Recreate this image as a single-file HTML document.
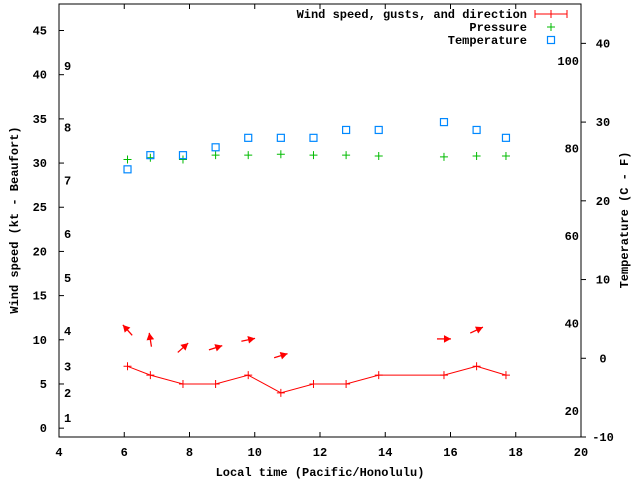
<!DOCTYPE html>
<html><head><meta charset="utf-8"><style>
body{margin:0;background:#fff}
svg text{font-family:"Liberation Mono",monospace;font-weight:bold;font-size:12px;fill:#000}
</style></head><body>
<svg id="c" width="640" height="480" xmlns="http://www.w3.org/2000/svg"></svg>
<script>
const times=[6.1,6.8,7.8,8.8,9.8,10.8,11.8,12.8,13.8,15.8,16.8,17.7];
const windSpeed=[7,6,5,5,6,4,5,5,6,6,7,6];
const pressure=[30.4,30.6,30.4,30.9,30.9,31.0,30.9,30.9,30.8,30.7,30.8,30.8];
const temperature=[24.0,25.8,25.8,26.8,28.0,28.0,28.0,29.0,29.0,30.0,29.0,28.0];
const arrowTimes=[6.1,6.8,7.8,8.8,9.8,10.8,15.8,16.8];
const arrowLevel=[11.1,10.0,9.1,9.1,10.0,8.2,10.1,11.1];
const arrowAngle=[132,99,42,18,12,17,0,25];
const xTicks=[4,6,8,10,12,14,16,18,20];
const yTicks=[0,5,10,15,20,25,30,35,40,45];
const y2Ticks=[-10,0,10,20,30,40];
const fTicks=[20,40,60,80,100];
const beaufortLabels=[1,2,3,4,5,6,7,8,9];
const beaufortLevel=[1.15,4.0,7.0,11.0,17.0,22.0,28.0,34.0,41.0];

const L=59,R=581,T=4,B=437;
const X=v=>L+(v-4)*(R-L)/16;
const Y=v=>B-(v+1)*(B-T)/49;
const Y2=v=>B-(v+10)*(B-T)/55;
const svg=document.getElementById('c');
const NS='http://www.w3.org/2000/svg';
function el(tag,attrs,name,txt){const e=document.createElementNS(NS,tag);for(const k in attrs)e.setAttribute(k,attrs[k]);


if(txt!==undefined)e.textContent=txt;svg.appendChild(e);return e;}

el('rect',{x:L,y:T,width:R-L,height:B-T,fill:'none',stroke:'#000','stroke-width':1},'plot-frame');
xTicks.forEach(t=>{const x=X(t);
 el('line',{x1:x,x2:x,y1:B,y2:B-5,stroke:'#000'},'x-tick');
 el('line',{x1:x,x2:x,y1:T,y2:T+5,stroke:'#000'},'x-tick-top');
 el('text',{x:x,y:B+19,'text-anchor':'middle'},'x-tick-label',t);});
yTicks.forEach(t=>{const y=Y(t);
 el('line',{x1:L,x2:L+5,y1:y,y2:y,stroke:'#000'},'y-tick');
 el('text',{x:L-12,y:y+4,'text-anchor':'end'},'y-tick-label',t);});
y2Ticks.forEach(t=>{const y=Y2(t);
 el('line',{x1:R,x2:R+5,y1:y,y2:y,stroke:'#000'},'y2-tick');
 el('text',{x:R+22,y:y+4,'text-anchor':'middle'},'y2-tick-label',t);});
fTicks.forEach(t=>{const y=Y2((t-32)*5/9);
 el('text',{x:R-2,y:y+4,'text-anchor':'end'},'fahrenheit-label',t);});
beaufortLabels.forEach((b,i)=>{el('text',{x:64,y:Y(beaufortLevel[i])+4},'beaufort-label',b);});

el('text',{x:320,y:476,'text-anchor':'middle'},'x-axis-title','Local time (Pacific/Honolulu)');
el('text',{x:18,y:220,'text-anchor':'middle',transform:'rotate(-90 18 220)'},'y-axis-title','Wind speed (kt - Beaufort)');
el('text',{x:628,y:220,'text-anchor':'middle',transform:'rotate(-90 628 220)'},'y2-axis-title','Temperature (C - F)');

el('polyline',{points:times.map((t,i)=>X(t)+','+Y(windSpeed[i])).join(' '),fill:'none',stroke:'#f00'},'wind-line');
times.forEach((t,i)=>{const x=X(t),y=Y(windSpeed[i]);
 el('path',{d:`M${x-4},${y}H${x+4}M${x},${y-4}V${y+4}`,stroke:'#f00'},'wind-point');});
arrowTimes.forEach((t,i)=>{const cx=X(t),cy=Y(arrowLevel[i]),a=arrowAngle[i]*Math.PI/180,l=7;
 const hx=cx+l*Math.cos(a),hy=cy-l*Math.sin(a),tx=cx-l*Math.cos(a),ty=cy+l*Math.sin(a);
 el('line',{x1:tx,y1:ty,x2:hx,y2:hy,stroke:'#f00','stroke-width':1.3},'wind-direction-arrow');
 const s=8,w=0.5,p1=[hx-s*Math.cos(a-w),hy+s*Math.sin(a-w)],p2=[hx-s*Math.cos(a+w),hy+s*Math.sin(a+w)];
 el('polygon',{points:`${hx},${hy} ${p1} ${p2}`,fill:'#f00'},'wind-arrow-head');});
times.forEach((t,i)=>{const x=X(t),y=Y(pressure[i]);
 el('path',{d:`M${x-4},${y}H${x+4}M${x},${y-4}V${y+4}`,stroke:'#0b0'},'pressure-point');});
times.forEach((t,i)=>{const x=X(t),y=Y2(temperature[i]);
 el('rect',{x:x-3.5,y:y-3.5,width:7,height:7,fill:'none',stroke:'#08f','stroke-width':1.2},'temperature-point');});

el('text',{x:527,y:18,'text-anchor':'end'},'legend-wind-label','Wind speed, gusts, and direction');
el('path',{d:'M535,14H567M535,10V18M551,10V18M567,10V18',stroke:'#f00'},'legend-wind-symbol');
el('text',{x:527,y:31,'text-anchor':'end'},'legend-pressure-label','Pressure');
el('path',{d:'M547,27H555M551,23V31',stroke:'#0b0'},'legend-pressure-symbol');
el('text',{x:527,y:44,'text-anchor':'end'},'legend-temperature-label','Temperature');
el('rect',{x:547.5,y:36.5,width:7,height:7,fill:'none',stroke:'#08f','stroke-width':1.2},'legend-temperature-symbol');
</script>
</body></html>
